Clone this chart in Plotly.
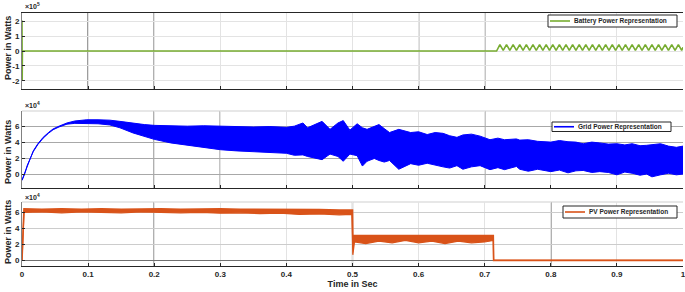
import numpy as np
import plotly.graph_objects as go

# ---------------- data ----------------
# Battery power, units of 1e5 W
battery_t = [0, 0.0003, 0.0006, 0.718,
             0.723, 0.728, 0.733, 0.738, 0.743, 0.748, 0.753, 0.758, 0.763, 0.768,
             0.773, 0.778, 0.783, 0.788, 0.793, 0.798, 0.803, 0.808, 0.813, 0.818,
             0.823, 0.828, 0.833, 0.838, 0.843, 0.848, 0.853, 0.858, 0.863, 0.868,
             0.873, 0.878, 0.883, 0.888, 0.893, 0.898, 0.903, 0.908, 0.913, 0.918,
             0.923, 0.928, 0.933, 0.938, 0.943, 0.948, 0.953, 0.958, 0.963, 0.968,
             0.973, 0.978, 0.983, 0.988, 0.993, 0.998, 1.0]
battery_v = [2.05, -1.95, 0, 0,
             0.43, 0.04, 0.43, 0.04, 0.43, 0.04, 0.43, 0.04, 0.43, 0.04,
             0.43, 0.04, 0.43, 0.04, 0.43, 0.04, 0.43, 0.04, 0.43, 0.04,
             0.43, 0.04, 0.43, 0.04, 0.43, 0.04, 0.43, 0.04, 0.43, 0.04,
             0.43, 0.04, 0.43, 0.04, 0.43, 0.04, 0.43, 0.04, 0.43, 0.04,
             0.43, 0.04, 0.43, 0.04, 0.43, 0.04, 0.43, 0.04, 0.43, 0.04,
             0.43, 0.04, 0.43, 0.04, 0.43, 0.04, 0.25]

# Grid power envelope (dense oscillation band), units of 1e4 W
grid_t = [0, 0.004, 0.008, 0.012, 0.017, 0.024, 0.032, 0.04, 0.047, 0.056,
          0.068, 0.08, 0.098, 0.115, 0.133, 0.148, 0.168, 0.185, 0.2, 0.225,
          0.25, 0.275, 0.3, 0.325, 0.35, 0.375, 0.4, 0.412, 0.425, 0.432,
          0.444, 0.454, 0.466, 0.478, 0.486, 0.496, 0.507, 0.515, 0.522, 0.533,
          0.54, 0.548, 0.556, 0.57, 0.588, 0.6, 0.613, 0.625, 0.637, 0.647,
          0.658, 0.667, 0.68, 0.693, 0.708, 0.72, 0.73, 0.748, 0.753, 0.766,
          0.78, 0.8, 0.813, 0.826, 0.838, 0.849, 0.862, 0.874, 0.887, 0.9,
          0.912, 0.923, 0.935, 0.945, 0.953, 0.966, 0.978, 0.99, 1.0]
grid_upper = [-0.75, 0.1, 1.2, 2.0, 2.9, 3.8, 4.6, 5.2, 5.65, 6.0,
              6.4, 6.65, 6.8, 6.8, 6.75, 6.6, 6.35, 6.2, 6.1, 6.05,
              6.0, 6.05, 6.0, 5.95, 5.9, 5.95, 5.85, 6.0, 6.4, 5.8,
              6.2, 6.6, 5.6, 6.4, 6.7, 5.5, 6.3, 5.8, 5.6, 6.0,
              6.2, 5.7, 5.2, 5.6, 5.2, 5.3, 4.95, 5.2, 5.1, 4.8,
              4.6, 4.9, 5.0, 4.75, 4.3, 4.5, 4.3, 4.4, 4.25, 4.3,
              4.1, 4.0, 4.2, 4.05, 4.0, 3.8, 4.0, 3.9, 3.75, 3.8,
              3.65, 3.8, 3.55, 3.6, 3.7, 3.8, 3.5, 3.35, 3.5]
grid_lower = [-0.8, 0.0, 1.1, 1.9, 2.8, 3.7, 4.5, 5.1, 5.55, 5.9,
              6.25, 6.35, 6.35, 6.3, 6.15, 5.8, 5.15, 4.7, 4.35, 3.9,
              3.6, 3.35, 3.05, 2.9, 2.8, 2.7, 2.6, 2.35, 2.4, 2.2,
              1.95, 1.8, 2.5, 2.2, 1.6, 2.5, 2.3, 1.0, 1.6, 1.95,
              1.7, 1.5, 1.7, 0.6, 1.3, 1.1, 1.35, 1.1, 0.9, 0.75,
              1.05, 0.6, 0.9, 1.05, 0.55, 0.8, 0.55, 0.95, 0.6, 0.35,
              0.6, 0.3, 0.5, 0.15, 0.4, 0.45, 0.2, 0.3, 0.2, -0.1,
              0.25, 0.1, -0.15, 0.0, -0.35, -0.1, 0.1, -0.1, 0.0]

# PV power envelope, units of 1e4 W
pv_t = [0, 0.0005, 0.0015, 0.003, 0.03, 0.06, 0.09, 0.12, 0.15, 0.18,
        0.21, 0.24, 0.27, 0.3, 0.33, 0.36, 0.39, 0.42, 0.45, 0.48,
        0.499, 0.5, 0.5005, 0.503, 0.52, 0.54, 0.56, 0.58, 0.6, 0.62,
        0.64, 0.66, 0.68, 0.7, 0.713, 0.7135, 1.0]
pv_upper = [0, 1.0, 4.8, 6.45, 6.4, 6.45, 6.4, 6.45, 6.4, 6.45,
            6.45, 6.4, 6.45, 6.45, 6.4, 6.4, 6.4, 6.35, 6.35, 6.3,
            6.3, 6.3, 3.1, 3.1, 3.1, 3.1, 3.1, 3.05, 3.1, 3.1,
            3.05, 3.1, 3.1, 3.1, 3.1, 0, 0]
pv_lower = [0, 1.0, 4.8, 6.0, 6.05, 5.95, 6.05, 6.0, 5.95, 6.05,
            6.0, 5.95, 6.0, 5.9, 5.95, 5.85, 5.9, 5.75, 5.8, 5.7,
            5.75, 0.7, 0.7, 2.3, 2.1, 2.4, 2.2, 2.5, 2.2, 2.4,
            2.1, 2.4, 2.2, 2.3, 2.5, 0, 0]

series_names = ["Battery Power Representation", "Grid Power Representation",
                "PV Power Representation"]

x_ticks = [0, 0.1, 0.2, 0.3, 0.4, 0.5, 0.6, 0.7, 0.8, 0.9, 1]
x_tick_labels = ["0", "0.1", "0.2", "0.3", "0.4", "0.5", "0.6", "0.7", "0.8", "0.9", "1"]
y1_ticks = [-2, -1, 0, 1, 2]
y23_ticks = [0, 2, 4, 6]

# ---------------- styling ----------------
GREEN = "#77AC30"
BLUE = "#0000FF"
ORANGE = "#D95319"
FONT = "Liberation Sans"
W, H = 685, 292
ML, MR, MT, MB = 22, 2, 13, 26
PW, PH = W - ML - MR, H - MT - MB


def px_x(x):
    return (x - ML) / PW


def px_y(y):
    return (H - MB - y) / PH


fig = go.Figure()

# Battery
fig.add_trace(go.Scatter(x=battery_t, y=np.array(battery_v) * 1e5, mode="lines",
                         line=dict(color=GREEN, width=1.6), name=series_names[0],
                         xaxis="x", yaxis="y"))

# Grid band
fig.add_trace(go.Scatter(x=grid_t, y=np.array(grid_lower) * 1e4, mode="lines",
                         line=dict(color=BLUE, width=1), name=series_names[1],
                         xaxis="x2", yaxis="y2"))
fig.add_trace(go.Scatter(x=grid_t, y=np.array(grid_upper) * 1e4, mode="lines",
                         line=dict(color=BLUE, width=1), fill="tonexty",
                         fillcolor=BLUE, name=series_names[1],
                         xaxis="x2", yaxis="y2"))

# PV band
fig.add_trace(go.Scatter(x=pv_t, y=np.array(pv_lower) * 1e4, mode="lines",
                         line=dict(color=ORANGE, width=1.2), name=series_names[2],
                         xaxis="x3", yaxis="y3"))
fig.add_trace(go.Scatter(x=pv_t, y=np.array(pv_upper) * 1e4, mode="lines",
                         line=dict(color=ORANGE, width=1.6), fill="tonexty",
                         fillcolor=ORANGE, name=series_names[2],
                         xaxis="x3", yaxis="y3"))

tickfont = dict(family=FONT, size=8, color="#262626", weight="bold")

xcommon = dict(range=[0, 1], tickvals=x_ticks, ticktext=x_tick_labels,
               showgrid=True, gridcolor="#e3e3e3", gridwidth=1, automargin=False,
               zeroline=False, ticks="inside", ticklen=3, tickcolor="#262626",
               showline=True, linecolor="#262626", linewidth=1,
               tickfont=tickfont, ticklabeloverflow="allow")
ycommon = dict(showgrid=True, gridwidth=1, zeroline=False, ticks="inside",
               ticklen=3, tickcolor="#262626", showline=True, automargin=False,
               linecolor="#808080", linewidth=1, tickfont=tickfont)

d1 = [px_y(89), 1.0]
d2 = [px_y(188), px_y(111)]
d3 = [0.0, px_y(202)]

fig.update_layout(
    width=W, height=H,
    margin=dict(l=ML, r=MR, t=MT, b=MB, autoexpand=False),
    paper_bgcolor="white", plot_bgcolor="white",
    showlegend=False, hovermode=False,
    xaxis=dict(xcommon, domain=[0, 1], anchor="y", showticklabels=False, mirror=True),
    yaxis=dict(ycommon, domain=d1, anchor="x", range=[-2.55e5, 2.55e5],
               tickvals=[v * 1e5 for v in y1_ticks], ticktext=[str(v) for v in y1_ticks],
               gridcolor="#e3e3e3"),
    xaxis2=dict(xcommon, domain=[0, 1], anchor="y2", showticklabels=False),
    yaxis2=dict(ycommon, domain=d2, anchor="x2", range=[-1.75e4, 7.9e4],
                tickvals=[v * 1e4 for v in y23_ticks], ticktext=[str(v) for v in y23_ticks],
                gridcolor="#a8a8a8"),
    xaxis3=dict(xcommon, domain=[0, 1], anchor="y3",
                title=dict(text="Time in Sec", standoff=2,
                           font=dict(family=FONT, size=9, color="#262626", weight="bold"))),
    yaxis3=dict(ycommon, domain=d3, anchor="x3", range=[-0.7e4, 7.3e4],
                tickvals=[v * 1e4 for v in y23_ticks], ticktext=[str(v) for v in y23_ticks],
                gridcolor="#cccccc", zeroline=True, zerolinecolor="#707070", zerolinewidth=1),
)

# dark vertical guide lines seen in each panel
dark_lines = {("x", "y"): [0.1, 0.2, 0.6, 0.7],
              ("x2", "y2"): [0.2, 0.3, 0.7],
              ("x3", "y3"): [0.2, 0.5, 0.8]}
for (xr, yr), xs in dark_lines.items():
    for xv in xs:
        fig.add_shape(type="line", xref=xr, yref=yr + " domain", x0=xv, x1=xv,
                      y0=0, y1=1, line=dict(color="#3c3c3c", width=1.2), layer="below")

# light top borders for panels 2 & 3
for yr in ["y2", "y3"]:
    fig.add_shape(type="line", xref="paper", yref=yr + " domain", x0=0, x1=1,
                  y0=1, y1=1, line=dict(color="#cfcfcf", width=1), layer="below")

# legend boxes (MATLAB-style, one per panel), pixel geometry
legend_boxes = [  # x0, x1, y0, y1, line x0, line x1, colour, name
    (548, 677, 15, 27, 550, 570, GREEN, series_names[0]),
    (552, 671, 122, 131.5, 554, 574, BLUE, series_names[1]),
    (563, 677, 206, 218, 565, 585, ORANGE, series_names[2]),
]
leg_font = dict(family=FONT, size=6.5, color="#262626", weight="bold")
for bx0, bx1, by0, by1, lx0, lx1, col, name in legend_boxes:
    fig.add_shape(type="rect", xref="paper", yref="paper",
                  x0=px_x(bx0), x1=px_x(bx1), y0=px_y(by1), y1=px_y(by0),
                  line=dict(color="#262626", width=1), fillcolor="white", layer="above")
    ym = (by0 + by1) / 2
    fig.add_shape(type="line", xref="paper", yref="paper",
                  x0=px_x(lx0), x1=px_x(lx1), y0=px_y(ym), y1=px_y(ym),
                  line=dict(color=col, width=1.6), layer="above")
    fig.add_annotation(text=name, xref="paper", yref="paper", x=px_x(lx1 + 2),
                       y=px_y(ym), xanchor="left", yanchor="middle", showarrow=False,
                       font=leg_font)

# axis titles & exponent labels
ytitle_font = dict(family=FONT, size=9, color="#262626", weight="bold")
for ypx in [48, 152, 232]:
    fig.add_annotation(text="Power in Watts", xref="paper", yref="paper",
                       x=px_x(8), y=px_y(ypx), textangle=-90, showarrow=False,
                       xanchor="center", yanchor="middle", font=ytitle_font)

exp_font = dict(family=FONT, size=7, color="#262626", weight="bold")
for txt, ypx in [("×10<sup>5</sup>", 6), ("×10<sup>4</sup>", 105), ("×10<sup>4</sup>", 196.5)]:
    fig.add_annotation(text=txt, xref="paper", yref="paper", x=px_x(23), y=px_y(ypx),
                       showarrow=False, xanchor="left", yanchor="middle", font=exp_font)

fig.write_html("out.html", config={"displayModeBar": False, "staticPlot": True},
               post_script="document.body.style.margin='0';")
